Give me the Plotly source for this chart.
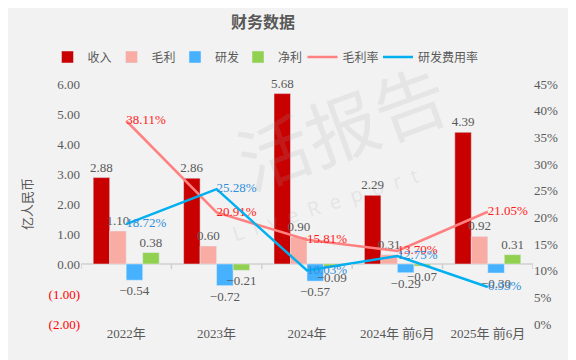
import plotly.graph_objects as go

categories = ["2022年", "2023年", "2024年", "2024年 前6月", "2025年 前6月"]
revenue = [2.88, 2.86, 5.68, 2.29, 4.39]
gross_profit = [1.10, 0.60, 0.90, 0.31, 0.92]
rnd = [-0.54, -0.72, -0.57, -0.29, -0.30]
net_profit = [0.38, -0.21, -0.09, -0.07, 0.31]
gross_margin = [0.3811, 0.2091, 0.1581, 0.1370, 0.2105]
rnd_ratio = [0.1872, 0.2528, 0.1003, 0.1275, 0.0693]

left_ticks = [-2, -1, 0, 1, 2, 3, 4, 5, 6]
right_ticks = [0, 0.05, 0.10, 0.15, 0.20, 0.25, 0.30, 0.35, 0.40, 0.45]

SERIF = "Liberation Serif, Noto Sans CJK SC"
GRAY = "#595959"

# legend item centre positions (page pixels) -> paper x of each legend box
legend_centres = [66.5, 130.5, 194, 257, 321.5, 397]
legend_ids = ["legend", "legend2", "legend3", "legend4", "legend5", "legend6"]


def lx(c):
    return (c - 19 - 8 - 73) / 452


def fmt(v):
    return ("−" if v < 0 else "") + f"{abs(v):.2f}"


fig = go.Figure()
bar_specs = [
    ("收入", revenue, "#C90000"),
    ("毛利", gross_profit, "#F9ACA4"),
    ("研发", rnd, "#45B1FF"),
    ("净利", net_profit, "#92D050"),
]
for i, (name, vals, color) in enumerate(bar_specs):
    fig.add_trace(go.Bar(
        x=categories, y=vals, name=name, marker_color=color,
        text=[fmt(v) for v in vals], textposition="outside",
        textfont=dict(family=SERIF, size=13, color=GRAY),
        constraintext="none", cliponaxis=False, legend=legend_ids[i],
        showlegend=True,
    ))

fig.add_trace(go.Scatter(
    x=categories, y=gross_margin, name="毛利率", yaxis="y2", mode="lines+text",
    line=dict(color="#FF8080", width=2.5),
    text=[f"{v*100:.2f}%" for v in gross_margin], textposition="middle right",
    textfont=dict(family=SERIF, size=13, color="#FF1A1A"), cliponaxis=False,
    legend=legend_ids[4], showlegend=True,
))
fig.add_trace(go.Scatter(
    x=categories, y=rnd_ratio, name="研发费用率", yaxis="y2", mode="lines+text",
    line=dict(color="#00B0F0", width=2.5),
    text=[f"{v*100:.2f}%" for v in rnd_ratio], textposition="middle right",
    textfont=dict(family=SERIF, size=13, color="#2F8FDB"), cliponaxis=False,
    legend=legend_ids[5], showlegend=True,
))

left_text = []
for t in left_ticks:
    if t < 0:
        left_text.append(f'<span style="color:#FF0000">({abs(t):.2f})</span>')
    else:
        left_text.append(f"{t:.2f}")

shapes = [
    dict(type="line", xref="paper", yref="y", x0=0, x1=1, y0=0, y1=0,
         line=dict(color="#D0D0D0", width=1.5), layer="below"),
]
for i in range(len(categories) + 1):
    shapes.append(dict(type="line", xref="x", yref="y", x0=i - 0.5, x1=i - 0.5,
                       y0=0, y1=-0.17, line=dict(color="#D0D0D0", width=1.5)))

legend_common = dict(orientation="h", xanchor="left",
                     y=(316-49)/240, yanchor="middle",
                     font=dict(family="Noto Sans CJK SC", size=12, color=GRAY),
                     bgcolor="rgba(0,0,0,0)", itemwidth=30, tracegroupgap=0)

legends = {lid: dict(legend_common, x=lx(c)) for lid, c in zip(legend_ids, legend_centres)}

fig.update_layout(
    width=576, height=360, showlegend=True,
    paper_bgcolor="#F2F2F2", plot_bgcolor="#F2F2F2",
    margin=dict(l=73, r=51, t=76, b=44, autoexpand=False),
    barmode="group", bargap=0.27, bargroupgap=0,
    font=dict(family=SERIF, color=GRAY, size=13),
    title=dict(text="<b>财务数据</b>", x=255/576, xanchor="center", y=1-14/360,
               yanchor="middle", yref="container",
               font=dict(family="Noto Sans CJK SC", size=16, color=GRAY)),
    xaxis=dict(type="category", showgrid=False, showline=False, ticks="",
               tickfont=dict(family=SERIF + ", Noto Sans CJK SC", size=13, color=GRAY),
               range=[-0.5, 4.5]),
    yaxis=dict(range=[-2, 6], tickvals=left_ticks, ticktext=left_text, showgrid=False,
               zeroline=False, showline=False,
               tickfont=dict(family=SERIF, size=13, color=GRAY),
               title=dict(text="亿人民币", font=dict(family="Noto Sans CJK SC", size=13, color=GRAY),
                          standoff=13)),
    yaxis2=dict(range=[0, 0.45], overlaying="y", side="right", tickvals=right_ticks,
                ticktext=[f"{round(v*100)}%" for v in right_ticks], showgrid=False,
                zeroline=False, showline=False,
                tickfont=dict(family=SERIF, size=13, color=GRAY)),
    shapes=shapes,
    annotations=[
        dict(text="活报告", xref="paper", yref="paper", x=0.575, y=0.83, showarrow=False,
             xanchor="center", yanchor="middle",
             textangle=-20, font=dict(family="Noto Sans CJK SC", size=72,
                                      color="rgba(160,160,160,0.16)")),
        dict(text="L  i  v  e  R  e  p  o  r  t", xref="paper", yref="paper", x=0.54, y=0.50,
             xanchor="center", yanchor="middle",
             showarrow=False, textangle=-18,
             font=dict(family="Noto Sans", size=20, color="rgba(160,160,160,0.18)")),
    ],
    **legends,
)

fig.write_html("out.html")
